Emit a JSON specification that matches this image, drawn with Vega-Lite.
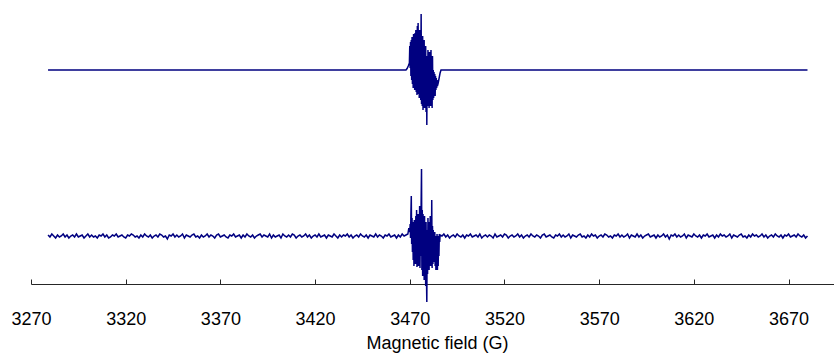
{
"$schema": "https://vega.github.io/schema/vega-lite/v6.json",
"autosize": {"type": "none"},
"padding": {"left": 31, "top": 0, "right": 0, "bottom": 70},
"width": 803,
"height": 284,
"background": "white",
"config": {"view": {"stroke": null}, "font": "Liberation Sans"},
"datasets": {
"sim": [
{"f":3279,"v":214},{"f":3468,"v":214},{"f":3468.6,"v":215.5},{"f":3469.2,"v":218},{"f":3469.8,"v":221},
{"f":3470.0,"v":238},{"f":3470.2,"v":216},{"f":3470.4,"v":242},{"f":3470.6,"v":208},{"f":3470.8,"v":244},{"f":3471.0,"v":204},
{"f":3471.2,"v":247},{"f":3471.4,"v":200},{"f":3471.6,"v":245},{"f":3471.8,"v":196},{"f":3472.0,"v":250},{"f":3472.2,"v":202},{"f":3472.4,"v":248},{"f":3472.6,"v":194},{"f":3472.8,"v":251},{"f":3473.0,"v":198},
{"f":3473.2,"v":254},{"f":3473.4,"v":192},{"f":3473.6,"v":252},{"f":3473.8,"v":189},{"f":3474.0,"v":258},{"f":3474.2,"v":196},{"f":3474.4,"v":261},{"f":3474.6,"v":190},{"f":3474.8,"v":250},{"f":3475.0,"v":186},
{"f":3475.2,"v":254},{"f":3475.4,"v":192},{"f":3475.6,"v":246},{"f":3475.8,"v":184},{"f":3476.0,"v":270},{"f":3476.2,"v":180},{"f":3476.4,"v":240},{"f":3476.6,"v":178},{"f":3476.8,"v":248},{"f":3477.0,"v":174},
{"f":3477.2,"v":236},{"f":3477.4,"v":182},{"f":3477.6,"v":244},{"f":3477.8,"v":176},{"f":3478.0,"v":232},{"f":3478.2,"v":180},{"f":3478.4,"v":238},{"f":3478.6,"v":172},{"f":3478.8,"v":228},{"f":3479.0,"v":159},
{"f":3479.2,"v":224},{"f":3479.4,"v":178},{"f":3479.6,"v":234},{"f":3479.8,"v":184},{"f":3480.0,"v":226},{"f":3480.2,"v":176},{"f":3480.4,"v":232},{"f":3480.6,"v":186},{"f":3480.8,"v":230},{"f":3481.0,"v":178},
{"f":3481.2,"v":234},{"f":3481.4,"v":182},{"f":3481.6,"v":224},{"f":3481.8,"v":176},{"f":3482.0,"v":228},{"f":3482.2,"v":184},{"f":3482.4,"v":214},{"f":3482.6,"v":186},{"f":3482.8,"v":212},{"f":3483.0,"v":190},
{"f":3483.2,"v":210},{"f":3483.4,"v":188},{"f":3483.6,"v":208},{"f":3483.8,"v":194},{"f":3484.0,"v":206},{"f":3484.2,"v":196},{"f":3484.4,"v":204},{"f":3484.6,"v":198},
{"f":3485.0,"v":201},{"f":3485.5,"v":206},{"f":3486.0,"v":211},{"f":3486.5,"v":214},{"f":3680,"v":214}
],
"exp": [
{"f":3279,"v":49},{"f":3280,"v":47},{"f":3281,"v":50},{"f":3282,"v":48},{"f":3283,"v":46},{"f":3284,"v":49},{"f":3285,"v":47},{"f":3286,"v":48},{"f":3287,"v":50},{"f":3288,"v":47},{"f":3289,"v":49},{"f":3290,"v":46},{"f":3291,"v":48},{"f":3292,"v":49},{"f":3293,"v":47},{"f":3294,"v":50},{"f":3295,"v":47},{"f":3296,"v":48},{"f":3297,"v":49},{"f":3298,"v":46},
{"f":3299,"v":48},{"f":3300,"v":50},{"f":3301,"v":47},{"f":3302,"v":49},{"f":3303,"v":47},{"f":3304,"v":48},{"f":3305,"v":46},{"f":3306,"v":49},{"f":3307,"v":48},{"f":3308,"v":50},{"f":3309,"v":47},{"f":3310,"v":49},{"f":3311,"v":46},{"f":3312,"v":47},{"f":3313,"v":49},{"f":3314,"v":48},{"f":3315,"v":50},{"f":3316,"v":47},{"f":3317,"v":48},{"f":3318,"v":49},
{"f":3319,"v":47},{"f":3320,"v":46},{"f":3321,"v":49},{"f":3322,"v":48},{"f":3323,"v":50},{"f":3324,"v":49},{"f":3325,"v":47},{"f":3326,"v":48},{"f":3327,"v":46},{"f":3328,"v":49},{"f":3329,"v":47},{"f":3330,"v":50},{"f":3331,"v":48},{"f":3332,"v":47},{"f":3333,"v":49},{"f":3334,"v":46},{"f":3335,"v":48},{"f":3336,"v":49},{"f":3337,"v":47},{"f":3338,"v":50},
{"f":3339,"v":49},{"f":3340,"v":47},{"f":3341,"v":48},{"f":3342,"v":45},{"f":3343,"v":49},{"f":3344,"v":48},{"f":3345,"v":50},{"f":3346,"v":47},{"f":3347,"v":49},{"f":3348,"v":47},{"f":3349,"v":48},{"f":3350,"v":50},{"f":3351,"v":46},{"f":3352,"v":49},{"f":3353,"v":48},{"f":3354,"v":47},{"f":3355,"v":49},{"f":3356,"v":50},{"f":3357,"v":47},{"f":3358,"v":48},
{"f":3359,"v":46},{"f":3360,"v":49},{"f":3361,"v":47},{"f":3362,"v":48},{"f":3363,"v":50},{"f":3364,"v":47},{"f":3365,"v":49},{"f":3366,"v":48},{"f":3367,"v":46},{"f":3368,"v":49},{"f":3369,"v":50},{"f":3370,"v":47},{"f":3371,"v":48},{"f":3372,"v":49},{"f":3373,"v":47},{"f":3374,"v":46},{"f":3375,"v":49},{"f":3376,"v":48},{"f":3377,"v":50},{"f":3378,"v":47},
{"f":3379,"v":48},{"f":3380,"v":49},{"f":3381,"v":46},{"f":3382,"v":49},{"f":3383,"v":47},{"f":3384,"v":50},{"f":3385,"v":48},{"f":3386,"v":47},{"f":3387,"v":49},{"f":3388,"v":46},{"f":3389,"v":48},{"f":3390,"v":49},{"f":3391,"v":50},{"f":3392,"v":47},{"f":3393,"v":49},{"f":3394,"v":48},{"f":3395,"v":47},{"f":3396,"v":50},{"f":3397,"v":46},{"f":3398,"v":49},
{"f":3399,"v":47},{"f":3400,"v":48},{"f":3401,"v":49},{"f":3402,"v":46},{"f":3403,"v":50},{"f":3404,"v":48},{"f":3405,"v":47},{"f":3406,"v":49},{"f":3407,"v":47},{"f":3408,"v":50},{"f":3409,"v":49},{"f":3410,"v":46},{"f":3411,"v":48},{"f":3412,"v":49},{"f":3413,"v":47},{"f":3414,"v":48},{"f":3415,"v":50},{"f":3416,"v":47},{"f":3417,"v":49},{"f":3418,"v":46},
{"f":3419,"v":48},{"f":3420,"v":49},{"f":3421,"v":47},{"f":3422,"v":50},{"f":3423,"v":47},{"f":3424,"v":48},{"f":3425,"v":49},{"f":3426,"v":46},{"f":3427,"v":49},{"f":3428,"v":48},{"f":3429,"v":47},{"f":3430,"v":50},{"f":3431,"v":48},{"f":3432,"v":46},{"f":3433,"v":49},{"f":3434,"v":47},{"f":3435,"v":49},{"f":3436,"v":48},{"f":3437,"v":50},{"f":3438,"v":47},
{"f":3439,"v":49},{"f":3440,"v":46},{"f":3441,"v":48},{"f":3442,"v":49},{"f":3443,"v":47},{"f":3444,"v":50},{"f":3445,"v":48},{"f":3446,"v":47},{"f":3447,"v":49},{"f":3448,"v":46},{"f":3449,"v":49},{"f":3450,"v":48},{"f":3451,"v":47},{"f":3452,"v":50},{"f":3453,"v":47},{"f":3454,"v":49},{"f":3455,"v":48},{"f":3456,"v":46},{"f":3457,"v":49},{"f":3458,"v":48},
{"f":3459,"v":50},{"f":3460,"v":47},{"f":3461,"v":48},{"f":3462,"v":49},{"f":3463,"v":46},{"f":3464,"v":49},{"f":3465,"v":47},{"f":3466,"v":50},{"f":3467,"v":48},{"f":3468,"v":49},
{"f":3469.0,"v":50},{"f":3469.5,"v":56},{"f":3470.0,"v":52},
{"f":3470.2,"v":60},{"f":3470.4,"v":46},{"f":3470.6,"v":70},{"f":3470.8,"v":88},{"f":3471.0,"v":40},{"f":3471.2,"v":66},{"f":3471.4,"v":32},{"f":3471.6,"v":62},{"f":3471.8,"v":24},{"f":3472.0,"v":58},{"f":3472.2,"v":18},{"f":3472.4,"v":64},{"f":3472.6,"v":28},{"f":3472.8,"v":56},{"f":3473.0,"v":20},
{"f":3473.2,"v":68},{"f":3473.4,"v":30},{"f":3473.6,"v":74},{"f":3473.8,"v":17},{"f":3474.0,"v":62},{"f":3474.2,"v":26},{"f":3474.4,"v":70},{"f":3474.6,"v":18},{"f":3474.8,"v":66},{"f":3475.0,"v":22},
{"f":3475.2,"v":78},{"f":3475.4,"v":16},{"f":3475.6,"v":72},{"f":3475.8,"v":28},{"f":3476.0,"v":80},{"f":3476.2,"v":115},{"f":3476.4,"v":14},{"f":3476.6,"v":74},{"f":3476.8,"v":8},{"f":3477.0,"v":70},
{"f":3477.2,"v":18},{"f":3477.4,"v":64},{"f":3477.6,"v":4},{"f":3477.8,"v":68},{"f":3478.0,"v":12},{"f":3478.2,"v":58},{"f":3478.4,"v":-2},{"f":3478.6,"v":62},{"f":3478.8,"v":8},{"f":3479.0,"v":-18},
{"f":3479.2,"v":54},{"f":3479.4,"v":10},{"f":3479.6,"v":66},{"f":3479.8,"v":18},{"f":3480.0,"v":56},{"f":3480.2,"v":14},{"f":3480.4,"v":62},{"f":3480.6,"v":22},{"f":3480.8,"v":68},{"f":3481.0,"v":18},
{"f":3481.2,"v":60},{"f":3481.4,"v":24},{"f":3481.6,"v":84},{"f":3481.8,"v":16},{"f":3482.0,"v":58},{"f":3482.2,"v":20},{"f":3482.4,"v":54},{"f":3482.6,"v":28},{"f":3482.8,"v":50},{"f":3483.0,"v":22},
{"f":3483.2,"v":52},{"f":3483.4,"v":18},{"f":3483.6,"v":48},{"f":3483.8,"v":14},{"f":3484.0,"v":46},{"f":3484.2,"v":16},{"f":3484.4,"v":50},{"f":3484.6,"v":14},{"f":3484.8,"v":48},{"f":3485.0,"v":18},
{"f":3485.2,"v":46},{"f":3485.4,"v":28},{"f":3485.6,"v":50},{"f":3485.8,"v":42},{"f":3486.0,"v":49},
{"f":3487,"v":48},{"f":3488,"v":50},{"f":3489,"v":47},{"f":3490,"v":49},{"f":3491,"v":46},{"f":3492,"v":48},{"f":3493,"v":49},{"f":3494,"v":47},{"f":3495,"v":50},{"f":3496,"v":48},{"f":3497,"v":47},{"f":3498,"v":49},{"f":3499,"v":46},{"f":3500,"v":49},{"f":3501,"v":48},{"f":3502,"v":50},{"f":3503,"v":47},{"f":3504,"v":48},{"f":3505,"v":49},{"f":3506,"v":47},
{"f":3507,"v":50},{"f":3508,"v":46},{"f":3509,"v":48},{"f":3510,"v":49},{"f":3511,"v":47},{"f":3512,"v":49},{"f":3513,"v":48},{"f":3514,"v":46},{"f":3515,"v":50},{"f":3516,"v":47},{"f":3517,"v":48},{"f":3518,"v":49},{"f":3519,"v":47},{"f":3520,"v":50},{"f":3521,"v":49},{"f":3522,"v":46},{"f":3523,"v":48},{"f":3524,"v":49},{"f":3525,"v":47},{"f":3526,"v":48},
{"f":3527,"v":50},{"f":3528,"v":47},{"f":3529,"v":49},{"f":3530,"v":46},{"f":3531,"v":48},{"f":3532,"v":49},{"f":3533,"v":47},{"f":3534,"v":50},{"f":3535,"v":48},{"f":3536,"v":47},{"f":3537,"v":49},{"f":3538,"v":48},{"f":3539,"v":46},{"f":3540,"v":49},{"f":3541,"v":50},{"f":3542,"v":47},{"f":3543,"v":48},{"f":3544,"v":49},{"f":3545,"v":47},{"f":3546,"v":46},
{"f":3547,"v":49},{"f":3548,"v":48},{"f":3549,"v":50},{"f":3550,"v":47},{"f":3551,"v":49},{"f":3552,"v":47},{"f":3553,"v":48},{"f":3554,"v":50},{"f":3555,"v":46},{"f":3556,"v":49},{"f":3557,"v":48},{"f":3558,"v":47},{"f":3559,"v":49},{"f":3560,"v":50},{"f":3561,"v":47},{"f":3562,"v":48},{"f":3563,"v":46},{"f":3564,"v":49},{"f":3565,"v":47},{"f":3566,"v":50},
{"f":3567,"v":48},{"f":3568,"v":49},{"f":3569,"v":46},{"f":3570,"v":48},{"f":3571,"v":49},{"f":3572,"v":47},{"f":3573,"v":50},{"f":3574,"v":49},{"f":3575,"v":47},{"f":3576,"v":48},{"f":3577,"v":46},{"f":3578,"v":49},{"f":3579,"v":48},{"f":3580,"v":50},{"f":3581,"v":47},{"f":3582,"v":49},{"f":3583,"v":47},{"f":3584,"v":48},{"f":3585,"v":50},{"f":3586,"v":46},
{"f":3587,"v":49},{"f":3588,"v":48},{"f":3589,"v":47},{"f":3590,"v":50},{"f":3591,"v":47},{"f":3592,"v":49},{"f":3593,"v":46},{"f":3594,"v":48},{"f":3595,"v":49},{"f":3596,"v":50},{"f":3597,"v":47},{"f":3598,"v":48},{"f":3599,"v":49},{"f":3600,"v":46},{"f":3601,"v":49},{"f":3602,"v":47},{"f":3603,"v":48},{"f":3604,"v":50},{"f":3605,"v":47},{"f":3606,"v":49},
{"f":3607,"v":45},{"f":3608,"v":49},{"f":3609,"v":48},{"f":3610,"v":50},{"f":3611,"v":47},{"f":3612,"v":49},{"f":3613,"v":47},{"f":3614,"v":48},{"f":3615,"v":50},{"f":3616,"v":46},{"f":3617,"v":49},{"f":3618,"v":48},{"f":3619,"v":47},{"f":3620,"v":50},{"f":3621,"v":48},{"f":3622,"v":47},{"f":3623,"v":49},{"f":3624,"v":46},{"f":3625,"v":49},{"f":3626,"v":48},
{"f":3627,"v":50},{"f":3628,"v":47},{"f":3629,"v":48},{"f":3630,"v":49},{"f":3631,"v":46},{"f":3632,"v":49},{"f":3633,"v":47},{"f":3634,"v":50},{"f":3635,"v":48},{"f":3636,"v":49},{"f":3637,"v":47},{"f":3638,"v":48},{"f":3639,"v":50},{"f":3640,"v":46},{"f":3641,"v":49},{"f":3642,"v":48},{"f":3643,"v":47},{"f":3644,"v":49},{"f":3645,"v":50},{"f":3646,"v":47},
{"f":3647,"v":48},{"f":3648,"v":46},{"f":3649,"v":49},{"f":3650,"v":47},{"f":3651,"v":50},{"f":3652,"v":48},{"f":3653,"v":49},{"f":3654,"v":47},{"f":3655,"v":48},{"f":3656,"v":50},{"f":3657,"v":47},{"f":3658,"v":49},{"f":3659,"v":46},{"f":3660,"v":48},{"f":3661,"v":49},{"f":3662,"v":47},{"f":3663,"v":50},{"f":3664,"v":48},{"f":3665,"v":47},{"f":3666,"v":49},
{"f":3667,"v":46},{"f":3668,"v":49},{"f":3669,"v":48},{"f":3670,"v":50},{"f":3671,"v":47},{"f":3672,"v":48},{"f":3673,"v":49},{"f":3674,"v":47},{"f":3675,"v":50},{"f":3676,"v":48},{"f":3677,"v":47},{"f":3678,"v":49},{"f":3679,"v":46},{"f":3680,"v":48}
]
},
"encoding": {
  "x": {"field": "f", "type": "quantitative",
        "scale": {"domain": [3270, 3694], "nice": false, "zero": false},
        "axis": {"title": "Magnetic field (G)", "values": [3270,3320,3370,3420,3470,3520,3570,3620,3670],
                 "format": "d", "grid": false, "labelFontSize": 18, "titleFontSize": 18, "titleFontWeight": "normal",
                 "labelColor": "#000000", "titleColor": "#000000", "domainColor": "#262626", "tickColor": "#262626",
                 "domainWidth": 1, "tickWidth": 1, "tickSize": -5, "labelPadding": 31, "titlePadding": 6, "labelFlush": false, "titleX": 406}},
  "y": {"field": "v", "type": "quantitative", "scale": {"domain": [0, 284], "nice": false, "zero": false}, "axis": null}
},
"layer": [
  {"data": {"name": "sim"}, "mark": {"type": "line", "color": "#000080", "strokeWidth": 1.5, "clip": false}},
  {"data": {"name": "exp"}, "mark": {"type": "line", "color": "#000080", "strokeWidth": 1.5, "clip": false}}
]
}
